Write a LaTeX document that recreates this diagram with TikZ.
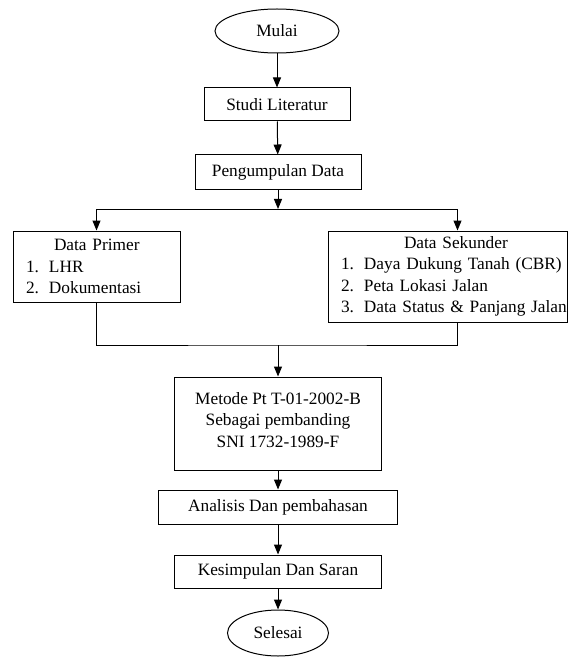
\documentclass[tikz,border=0pt]{standalone}
\usepackage{fontspec}
\setmainfont{Liberation Serif}
\usetikzlibrary{arrows.meta, positioning, shapes.geometric}
\newcommand{\itm}[1]{\hspace*{13pt}\makebox[23pt][l]{#1}}
\tikzset{
  terminal/.style={ellipse, draw, line width=1pt, inner sep=0pt},
  procbox/.style={rectangle, draw, line width=1pt, inner sep=0pt, align=center},
  listbox/.style={rectangle, draw, line width=1pt, inner sep=0pt, align=left},
  flow/.style={-{Triangle[length=10pt,width=8pt]}, line width=1pt},
  link/.style={line width=1pt},
}
\begin{document}
\begin{tikzpicture}[x=1pt, y=-1pt, font=\fontsize{17.3}{21.5}\selectfont]
  \useasboundingbox (0,0) rectangle (571,660);
  \node[terminal, minimum width=124pt, minimum height=44pt] (mulai) at (277,31) {Mulai};
  \node[procbox, minimum width=146pt, minimum height=33pt] (studi) at (277,104.5) {Studi Literatur};
  \node[procbox, minimum width=166pt, minimum height=35pt] (kumpul) at (278,172.5) {Pengumpulan Data};
  % data boxes
  \node[listbox, text width=167pt, minimum height=71pt] (primer) at (96.5,266.5)
    {\hspace*{41pt}Data Primer\\ \itm{1.}LHR\\ \itm{2.}Dokumentasi};
  \node[listbox, text width=239pt, minimum height=91pt] (sekunder) at (447.5,276.5)
    {\hspace*{76pt}Data Sekunder\\ \itm{1.}Daya Dukung Tanah (CBR)\\ \itm{2.}Peta Lokasi Jalan\\ \itm{3.}Data Status \& Panjang Jalan};
  \node[procbox, minimum width=207pt, minimum height=93pt, text depth=8pt] (metode) at (278,423.5)
    {Metode Pt T-01-2002-B\\ Sebagai pembanding\\ SNI 1732-1989-F};
  \node[procbox, minimum width=239pt, minimum height=34pt] (analisis) at (278,507) {Analisis Dan pembahasan};
  \node[procbox, minimum width=207pt, minimum height=33pt] (simpul) at (278,571.5) {Kesimpulan Dan Saran};
  \node[terminal, minimum width=101pt, minimum height=46pt] (selesai) at (278,633) {Selesai};
  \coordinate (split) at (278,209);
  \coordinate (join) at (278,345);
  % connectors
  \draw[flow] (mulai) -- (studi);
  \draw[flow] (studi) -- (kumpul);
  \draw[flow] (kumpul) -- (split);
  \draw[flow] (split) -| (primer.north);
  \draw[flow] (split) -| ([xshift=10pt]sekunder.north);
  \draw[link] (primer.south) |- (join) -| ([xshift=10pt]sekunder.south);
  \draw[flow] (join) -- (metode);
  \draw[flow] (metode) -- (analisis);
  \draw[flow] (analisis) -- (simpul);
  \draw[flow] (simpul) -- (selesai);
\end{tikzpicture}
\end{document}
